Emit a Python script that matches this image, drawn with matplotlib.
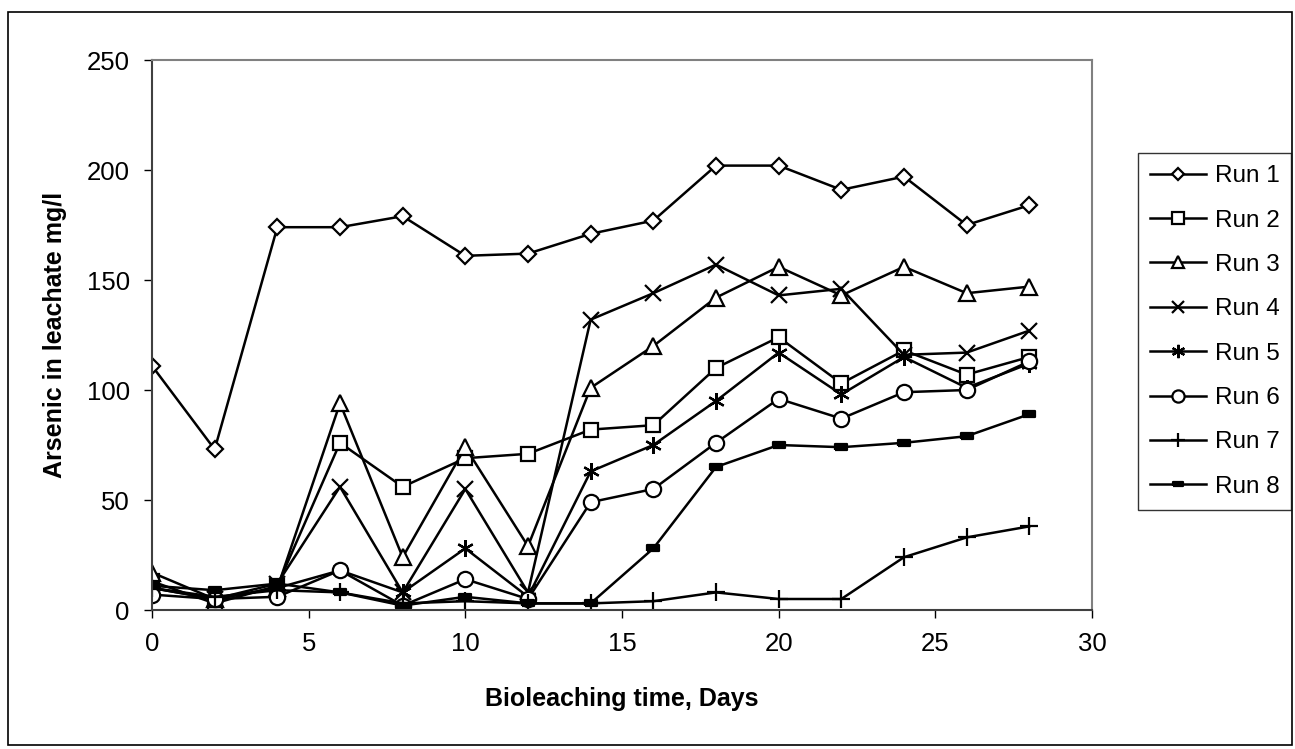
import matplotlib
matplotlib.use("Agg")
import matplotlib.pyplot as plt
from matplotlib.patches import Rectangle

plt.rcParams['font.family'] = ['Liberation Sans', 'DejaVu Sans']

days = [0, 2, 4, 6, 8, 10, 12, 14, 16, 18, 20, 22, 24, 26, 28]

run1 = [111, 73, 174, 174, 179, 161, 162, 171, 177, 202, 202, 191, 197, 175, 184]
run2 = [13, 3, 11, 76, 56, 69, 71, 82, 84, 110, 124, 103, 118, 107, 115]
run3 = [17, 5, 10, 94, 24, 74, 29, 101, 120, 142, 156, 143, 156, 144, 147]
run4 = [10, 5, 12, 56, 8, 55, 8, 132, 144, 157, 143, 146, 116, 117, 127]
run5 = [10, 5, 10, 18, 8, 28, 6, 63, 75, 95, 117, 98, 115, 101, 112]
run6 = [7, 5, 6, 18, 2, 14, 5, 49, 55, 76, 96, 87, 99, 100, 113]
run7 = [10, 6, 9, 8, 3, 4, 3, 3, 4, 8, 5, 5, 24, 33, 38]
run8 = [11, 9, 12, 8, 2, 6, 3, 3, 28, 65, 75, 74, 76, 79, 89]

labels = ['Run 1', 'Run 2', 'Run 3', 'Run 4', 'Run 5', 'Run 6', 'Run 7', 'Run 8']
series = [run1, run2, run3, run4, run5, run6, run7, run8]

dash = [(-1, -0.45), (1, -0.45), (1, 0.45), (-1, 0.45), (-1, -0.45)]
styles = [
    dict(marker='D', markersize=8, markerfacecolor='white'),
    dict(marker='s', markersize=10.5, markerfacecolor='white'),
    dict(marker='^', markersize=11, markerfacecolor='white'),
    dict(marker='x', markersize=11),
    dict(marker=(6, 2, 0), markersize=12),
    dict(marker='o', markersize=11, markerfacecolor='white'),
    dict(marker='+', markersize=13),
    dict(marker=dash, markersize=9, markerfacecolor='black'),
]

fig = plt.figure(figsize=(12.95, 7.49), dpi=100)
ax = fig.add_axes([152 / 1295, 1 - 610 / 749, (1092 - 152) / 1295, (610 - 60) / 749])

for vals, lab, st in zip(series, labels, styles):
    ax.plot(days, vals, color='black', linewidth=1.8, markeredgecolor='black',
            markeredgewidth=1.6, label=lab, **st)

ax.set_xlim(0, 30)
ax.set_ylim(0, 250)
ax.set_xticks(range(0, 31, 5))
ax.set_yticks(range(0, 251, 50))
ax.tick_params(direction='out', length=6, width=1, labelsize=18.5, pad=10)

for s in ['top', 'right']:
    ax.spines[s].set_color('#808080')
    ax.spines[s].set_linewidth(1.5)
for s in ['left', 'bottom']:
    ax.spines[s].set_color('#404040')
    ax.spines[s].set_linewidth(1.5)

ax.set_xlabel('Bioleaching time, Days', fontsize=18, fontweight='bold', labelpad=22)
ax.set_ylabel('Arsenic in leachate mg/l', fontsize=18, fontweight='bold', labelpad=14)

leg = fig.legend(loc='upper left', bbox_to_anchor=(1138 / 1295, 1 - 153 / 749),
                 borderaxespad=0, fontsize=17.5, frameon=True, fancybox=False,
                 edgecolor='black', handlelength=2.3, handletextpad=0.35,
                 labelspacing=0.92, borderpad=0.5)
leg.get_frame().set_linewidth(1.0)
for h in leg.legend_handles:
    h.set_markersize(h.get_markersize() * 0.8)

# outer border around the whole chart
fig.patches.append(Rectangle((8 / 1295, 4 / 749), 1284 / 1295, 733 / 749,
                             transform=fig.transFigure, fill=False,
                             edgecolor='black', linewidth=1.2))

fig.savefig('out.png', dpi=100)
